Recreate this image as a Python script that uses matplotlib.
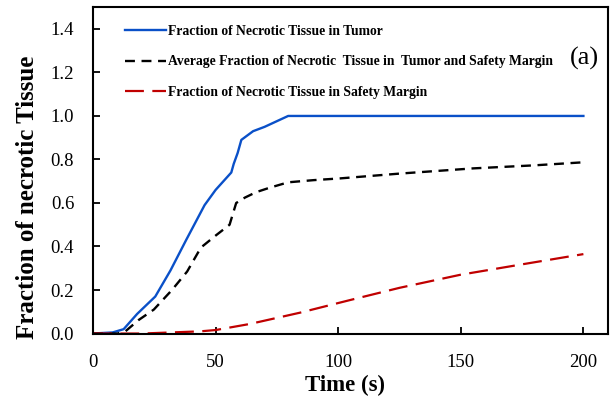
import matplotlib
matplotlib.use("Agg")
import matplotlib.pyplot as plt

# Data
t_tumor = [0, 8, 12.5, 18, 25.4, 31.6, 38, 45.5, 50, 56.4, 57.4, 59, 60.5, 65.3, 70, 79.6, 100, 150, 200]
v_tumor = [0, 0.005, 0.02, 0.09, 0.17, 0.29, 0.43, 0.59, 0.66, 0.74, 0.78, 0.83, 0.89, 0.93, 0.95, 1.0, 1.0, 1.0, 1.0]

t_avg = [0, 10, 13.2, 18.6, 24.8, 32.2, 38.4, 44, 50, 55.7, 58.4, 62, 66.6, 72, 79.6, 90, 100.8, 125, 155, 180, 200]
v_avg = [0, 0.0, 0.01, 0.062, 0.11, 0.2, 0.285, 0.395, 0.45, 0.5, 0.6, 0.625, 0.65, 0.67, 0.695, 0.705, 0.713, 0.735, 0.759, 0.773, 0.787]

t_margin = [0, 20, 32, 43.7, 50, 64, 84.5, 104.9, 125, 149.8, 175, 200]
v_margin = [0, 0.0, 0.005, 0.01, 0.016, 0.044, 0.096, 0.154, 0.21, 0.27, 0.318, 0.365]

labels = ["Fraction of Necrotic Tissue in Tumor",
          "Average Fraction of Necrotic  Tissue in  Tumor and Safety Margin",
          "Fraction of Necrotic Tissue in Safety Margin"]

x_ticks = [0, 50, 100, 150, 200]
y_ticks = [0.0, 0.2, 0.4, 0.6, 0.8, 1.0, 1.2, 1.4]

plt.rcParams['font.family'] = ['Liberation Serif', 'DejaVu Serif']

fig = plt.figure(figsize=(6.13, 3.98), dpi=100)
ax = fig.add_axes([0.1517, 0.162, 0.84, 0.82])

ax.plot(t_tumor, v_tumor, color='#0a50c8', lw=1.7, label=labels[0])
ax.plot(t_avg, v_avg, color='black', lw=1.7, dashes=(4.2, 2.8), label=labels[1])
ax.plot(t_margin, v_margin, color='#c00000', lw=1.6, dashes=(8.5, 3.8), label=labels[2])

ax.set_xlim(0, 210)
ax.set_ylim(0, 1.5)
ax.set_xticks(x_ticks)
ax.set_yticks(y_ticks)
ax.set_yticklabels([f"{v:.1f}" for v in y_ticks])
ax.tick_params(direction='in', length=5, width=1.3, labelsize=13.5, top=False, right=False)
ax.tick_params(axis='x', pad=14.5)
ax.tick_params(axis='y', pad=13.5)
for s in ax.spines.values():
    s.set_linewidth(1.5)

ax.set_xlabel("Time (s)", fontsize=16.5, fontweight='bold', va='center')
ax.xaxis.set_label_coords(0.489, -0.158)
ax.set_ylabel("Fraction of necrotic Tissue", fontsize=18, fontweight='bold', va='center')
ax.yaxis.set_label_coords(-0.128, 0.418)

leg = ax.legend(loc='upper left', bbox_to_anchor=(0.051, 0.962), frameon=False, borderaxespad=0,
                prop={'weight': 'bold', 'size': 9.8}, handlelength=3.0, handletextpad=0.15,
                labelspacing=1.28)

ax.text(0.955, 0.844, "(a)", transform=ax.transAxes, fontsize=19, ha='center', va='center')

fig.savefig("out.png", dpi=100)
